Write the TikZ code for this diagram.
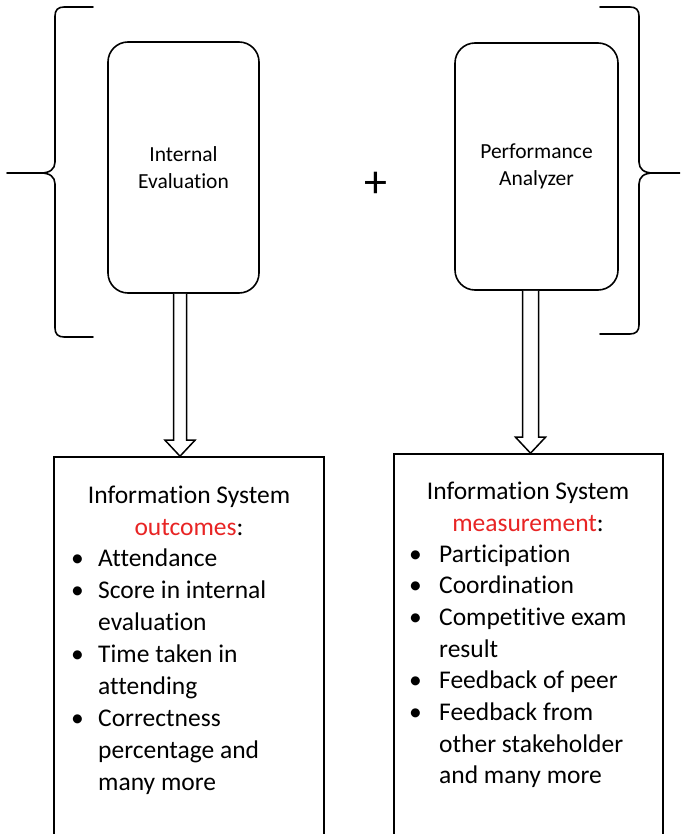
\documentclass[tikz,border=0pt]{standalone}
\usepackage{fontspec}
\setmainfont{Carlito}[Ligatures=NoCommon]
\usetikzlibrary{calc}
\definecolor{hlred}{RGB}{232,36,36}
\begin{document}
\begin{tikzpicture}[x=1pt,y=-1pt,
  topbox/.style={draw, line width=1.6pt, rounded corners=20pt, align=center,
    font=\fontsize{21.5}{27}\selectfont},
  outbox/.style={draw, line width=1.6pt},
  bracepath/.style={line width=1.6pt, line join=round, line cap=round},
  hollow/.style={line width=1.5pt, fill=white, line join=miter},
  headtxt/.style={inner sep=0pt, anchor=base, font=\fontsize{25.5}{32}\selectfont},
  listtxt/.style={inner sep=0pt, anchor=base west}]
\useasboundingbox (0,0) rectangle (680,834);
\clip (0,0) rectangle (680,834);
\fill[white] (0,0) rectangle (680,834);

% braces
\draw[bracepath] (93,7) -- (64,7) .. controls (58,7) and (55,10) .. (55,16) -- (55,162) .. controls (55,169) and (50,173) .. (41,173) -- (7,173);
\draw[bracepath] (41,173) .. controls (50,173) and (55,177) .. (55,184) -- (55,328) .. controls (55,334) and (58,337) .. (64,337) -- (93,337);
\draw[bracepath] (600,7) -- (630,7) .. controls (636,7) and (639,10) .. (639,16) -- (639,162) .. controls (639,169) and (644,173) .. (653,173) -- (680,173);
\draw[bracepath] (653,173) .. controls (644,173) and (639,177) .. (639,184) -- (639,325) .. controls (639,331) and (636,334) .. (630,334) -- (600,334);

% top boxes
\node[topbox, minimum width=151pt, minimum height=251pt] (ie) at (183.5,167.5) {Internal\\Evaluation};
\node[topbox, minimum width=163pt, minimum height=247pt] (pa) at (536.5,166.5) {Performance\\Analyzer};
\node[inner sep=0pt, font=\fontsize{46}{46}\selectfont] (plus) at (376,185) {+};

% lower boxes
\node[outbox, minimum width=270pt, minimum height=413pt] (out1) at (189,663.5) {};
\node[outbox, minimum width=269pt, minimum height=416pt] (out2) at (528.5,662) {};

% hollow arrows
\coordinate (ax1) at (180,0);
\coordinate (ax2) at (530.5,0);
\coordinate (t1) at (ax1 |- ie.south);
\coordinate (p1) at (ax1 |- out1.north);
\coordinate (t2) at (ax2 |- pa.south);
\coordinate (p2) at (ax2 |- out2.north);
\draw[hollow] ($(t1)+(-6.5,0)$) -- ($(p1)+(-6.5,-16)$) -- ($(p1)+(-15,-16)$) -- (p1) -- ($(p1)+(15,-16)$) -- ($(p1)+(6.5,-16)$) -- ($(t1)+(6.5,0)$);
\draw[hollow] ($(t2)+(-8,0)$) -- ($(p2)+(-8,-16)$) -- ($(p2)+(-15,-16)$) -- (p2) -- ($(p2)+(15,-16)$) -- ($(p2)+(8,-16)$) -- ($(t2)+(8,0)$);

% texts in lower boxes
\node[headtxt] (h1a) at (189,503) {Information System};
\node[headtxt] (h1b) at (189,535) {\textcolor{hlred}{outcomes}:};
\node[listtxt, font=\fontsize{25.5}{32}\selectfont] (l1) at (71,566) {%
\begin{tabular}[t]{@{}p{27pt}@{}l@{}}
\textbullet & Attendance\\
\textbullet & Score in internal\\
 & evaluation\\
\textbullet & Time taken in\\
 & attending\\
\textbullet & Correctness\\
 & percentage and\\
 & many more
\end{tabular}};

\node[headtxt] (h2a) at (528,499) {Information System};
\node[headtxt] (h2b) at (528,531) {\textcolor{hlred}{measurement}:};
\node[listtxt, font=\fontsize{25.5}{31.7}\selectfont] (l2) at (409,562) {%
\begin{tabular}[t]{@{}p{30pt}@{}l@{}}
\textbullet & Participation\\
\textbullet & Coordination\\
\textbullet & Competitive exam\\
 & result\\
\textbullet & Feedback of peer\\
\textbullet & Feedback from\\
 & other stakeholder\\
 & and many more
\end{tabular}};
\end{tikzpicture}
\end{document}
